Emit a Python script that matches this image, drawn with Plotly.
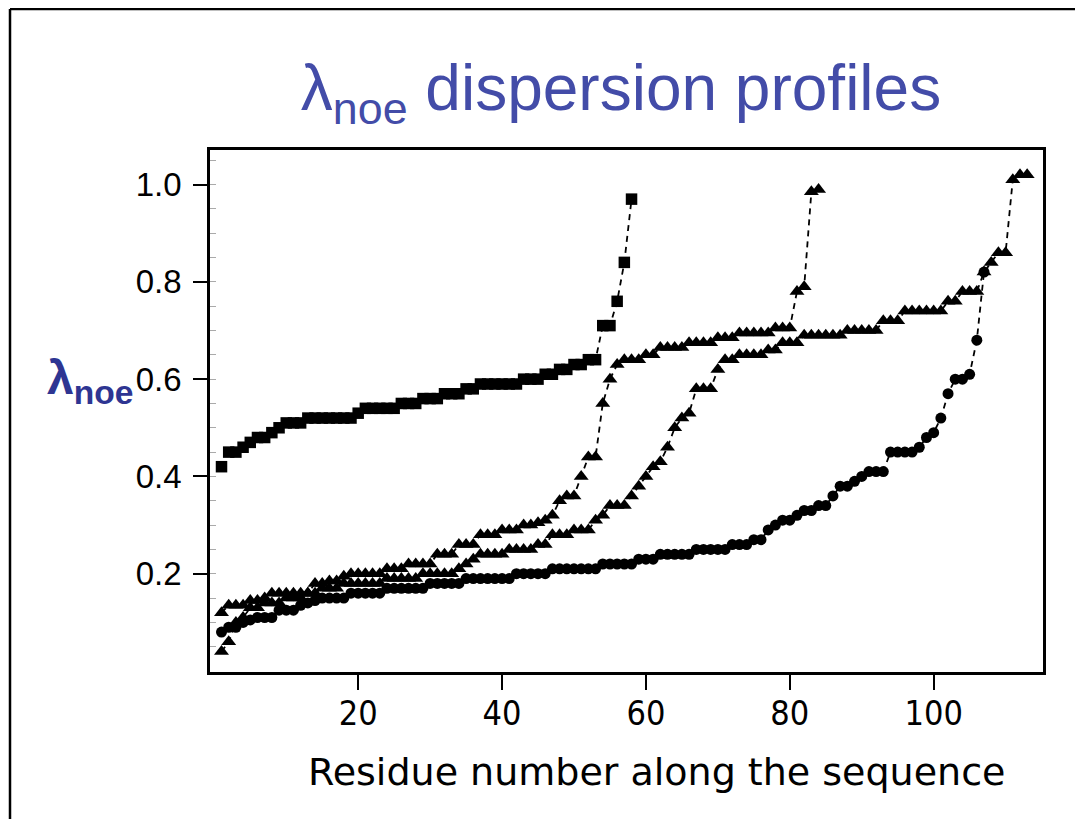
import plotly.graph_objects as go

# ---- data ----
sq_x = list(range(1, 59))
sq_y = [0.42, 0.45, 0.45, 0.46, 0.47, 0.48, 0.48, 0.49, 0.50, 0.51,
        0.51, 0.51, 0.52, 0.52, 0.52, 0.52, 0.52, 0.52, 0.52, 0.53,
        0.54, 0.54, 0.54, 0.54, 0.54, 0.55, 0.55, 0.55, 0.56, 0.56,
        0.56, 0.57, 0.57, 0.57, 0.58, 0.58, 0.59, 0.59, 0.59, 0.59,
        0.59, 0.59, 0.60, 0.60, 0.60, 0.61, 0.61, 0.62, 0.62, 0.63,
        0.63, 0.64, 0.64, 0.71, 0.71, 0.76, 0.84, 0.97]

t1_x = list(range(1, 85))
t1_y = [0.12, 0.135, 0.135, 0.135, 0.145, 0.145, 0.15, 0.16, 0.16, 0.16,
        0.16, 0.16, 0.16, 0.18, 0.18, 0.185, 0.185, 0.195, 0.20, 0.20,
        0.20, 0.20, 0.20, 0.21, 0.21, 0.21, 0.22, 0.22, 0.22, 0.22,
        0.24, 0.24, 0.24, 0.26, 0.26, 0.26, 0.28, 0.28, 0.28, 0.29,
        0.29, 0.29, 0.30, 0.30, 0.305, 0.31, 0.32, 0.35, 0.36, 0.36,
        0.40, 0.44, 0.44, 0.55, 0.60, 0.63, 0.64, 0.64, 0.64, 0.65,
        0.65, 0.665, 0.665, 0.665, 0.665, 0.675, 0.675, 0.675, 0.675, 0.685,
        0.685, 0.685, 0.695, 0.695, 0.695, 0.695, 0.695, 0.705, 0.705, 0.705,
        0.78, 0.79, 0.985, 0.99]

t2_x = list(range(1, 114))
t2_y = [0.04, 0.06, 0.10, 0.11, 0.13, 0.13, 0.14, 0.14, 0.14, 0.15,
        0.15, 0.15, 0.16, 0.16, 0.17, 0.17, 0.17, 0.18, 0.18, 0.18,
        0.18, 0.18, 0.18, 0.19, 0.19, 0.19, 0.19, 0.19, 0.20, 0.20,
        0.20, 0.20, 0.20, 0.21, 0.22, 0.23, 0.24, 0.24, 0.24, 0.24,
        0.25, 0.25, 0.25, 0.25, 0.26, 0.26, 0.28, 0.28, 0.28, 0.29,
        0.29, 0.29, 0.31, 0.32, 0.34, 0.34, 0.34, 0.36, 0.38, 0.40,
        0.42, 0.43, 0.46, 0.50, 0.52, 0.53, 0.58, 0.58, 0.58, 0.62,
        0.64, 0.64, 0.65, 0.65, 0.65, 0.65, 0.66, 0.66, 0.675, 0.675,
        0.675, 0.69, 0.69, 0.69, 0.69, 0.69, 0.69, 0.70, 0.70, 0.70,
        0.70, 0.70, 0.72, 0.72, 0.72, 0.74, 0.74, 0.74, 0.74, 0.74,
        0.74, 0.76, 0.76, 0.78, 0.78, 0.78, 0.82, 0.84, 0.86, 0.86,
        1.01, 1.02, 1.02]

ci_x = list(range(1, 108))
ci_y = [0.08, 0.09, 0.09, 0.10, 0.105, 0.11, 0.11, 0.11, 0.125, 0.125,
        0.125, 0.135, 0.14, 0.145, 0.15, 0.15, 0.15, 0.15, 0.16, 0.16,
        0.16, 0.16, 0.16, 0.17, 0.17, 0.17, 0.17, 0.17, 0.17, 0.18,
        0.18, 0.18, 0.18, 0.18, 0.19, 0.19, 0.19, 0.19, 0.19, 0.19,
        0.19, 0.20, 0.20, 0.20, 0.20, 0.20, 0.21, 0.21, 0.21, 0.21,
        0.21, 0.21, 0.21, 0.22, 0.22, 0.22, 0.22, 0.22, 0.23, 0.23,
        0.23, 0.24, 0.24, 0.24, 0.24, 0.24, 0.25, 0.25, 0.25, 0.25,
        0.25, 0.26, 0.26, 0.26, 0.27, 0.27, 0.29, 0.30, 0.31, 0.31,
        0.32, 0.33, 0.33, 0.34, 0.34, 0.36, 0.38, 0.38, 0.39, 0.40,
        0.41, 0.41, 0.41, 0.45, 0.45, 0.45, 0.45, 0.46, 0.48, 0.49,
        0.52, 0.57, 0.60, 0.60, 0.61, 0.68, 0.82]

x_ticks = [20, 40, 60, 80, 100]
y_ticks = [0.2, 0.4, 0.6, 0.8, 1.0]
y_tick_text = ["0.2", "0.4", "0.6", "0.8", "1.0"]
y_minor = [round(0.05 * i, 2) for i in range(1, 22)]

title_text = "λ<sub>noe</sub> dispersion profiles"
x_title = "Residue number along the sequence"
y_title = "<b>λ<sub>noe</sub></b>"

# ---- figure ----
line_style = dict(color="black", width=1.8, dash="6px,5px")
fig = go.Figure()
fig.add_trace(go.Scatter(x=t2_x, y=t2_y, mode="lines+markers", line=line_style,
                         marker=dict(symbol="triangle-up", size=13, color="black")))
fig.add_trace(go.Scatter(x=t1_x, y=t1_y, mode="lines+markers", line=line_style,
                         marker=dict(symbol="triangle-up", size=13, color="black")))
fig.add_trace(go.Scatter(x=ci_x, y=ci_y, mode="lines+markers", line=line_style,
                         marker=dict(symbol="circle", size=11, color="black")))
fig.add_trace(go.Scatter(x=sq_x, y=sq_y, mode="lines+markers", line=line_style,
                         marker=dict(symbol="square", size=11.5, color="black")))

# The page adds an 8px body margin, so work in page pixels and shift.
OFF = 8
W, H = 1083 - OFF, 819 - OFF
PL, PR, PT, PB = 210, 1043, 150, 672      # plot area in page pixels
L, R, T, B = PL - OFF, W - (PR - OFF), PT - OFF, H - (PB - OFF)
pw, ph = W - L - R, H - T - B


def px(xp):
    return (xp - PL) / pw


def py(yp):
    return (PB - yp) / ph


fig.update_layout(
    width=W, height=H,
    margin=dict(l=L, r=R, t=T, b=B, pad=0),
    paper_bgcolor="white", plot_bgcolor="white",
    showlegend=False,
    title=dict(text=title_text, x=(621 - OFF) / W, xanchor="center",
               y=1 - (88 - OFF) / H, yanchor="middle",
               font=dict(family="Liberation Sans, Arial", size=64, color="#434CA8")),
    xaxis=dict(range=[-0.6, 115.2], tickmode="array", tickvals=x_ticks,
               ticks="outside", ticklen=15, tickwidth=2, tickcolor="black",
               showline=True, linewidth=2.5, linecolor="black", mirror=True,
               showgrid=False, zeroline=False, ticklabelstandoff=-6,
               tickfont=dict(family="Liberation Sans Narrow, DejaVu Sans Condensed, Liberation Sans",
                             size=34, color="black")),
    yaxis=dict(range=[-0.002, 1.071], tickmode="array", tickvals=y_ticks,
               ticktext=y_tick_text,
               ticks="outside", ticklen=14, tickwidth=2, tickcolor="black",
               showline=True, linewidth=2.5, linecolor="black", mirror=True,
               showgrid=False, zeroline=False, ticklabelstandoff=5,
               tickfont=dict(family="Liberation Sans, Arial", size=33, color="black"),
               minor=dict(tickmode="array", tickvals=y_minor, ticks="inside",
                          ticklen=6, tickwidth=1, tickcolor="#aaaaaa")),
)

fig.add_annotation(text=x_title, xref="paper", yref="paper",
                   x=px(656), y=py(772), xanchor="center", yanchor="middle",
                   showarrow=False,
                   font=dict(family="DejaVu Sans", size=38, color="black"))
fig.add_annotation(text=y_title, xref="paper", yref="paper",
                   x=px(90), y=py(381), xanchor="center", yanchor="middle",
                   showarrow=False,
                   font=dict(family="Liberation Sans, Arial", size=48, color="#2E3592"))

# page frame (top and left border lines)
fig.add_shape(type="line", xref="paper", yref="paper",
              x0=px(10), x1=px(1083 + 5), y0=py(OFF + 1), y1=py(OFF + 1),
              line=dict(color="black", width=2.5))
fig.add_shape(type="line", xref="paper", yref="paper",
              x0=px(10), x1=px(10), y0=py(OFF + 1), y1=py(830),
              line=dict(color="black", width=2.5))

fig.write_html("out.html")
